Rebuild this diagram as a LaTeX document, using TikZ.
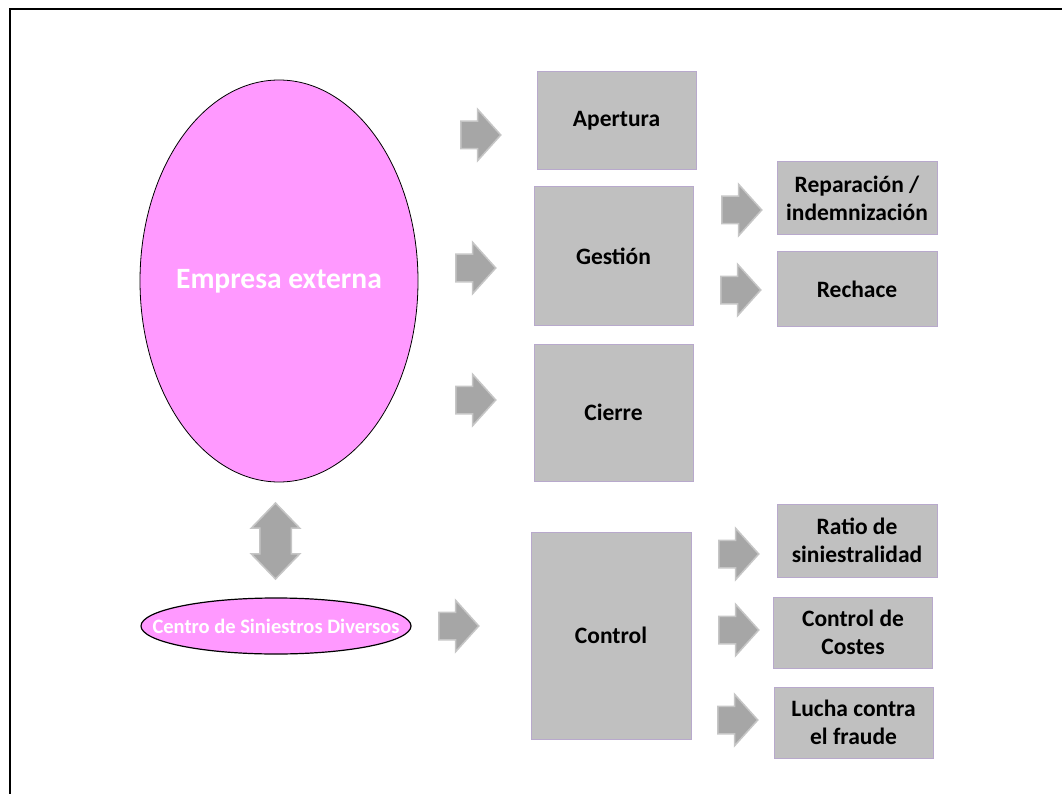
\documentclass[tikz,border=0pt]{standalone}
\usepackage{fontspec}
\setmainfont{Carlito}
\usetikzlibrary{shapes.geometric,shapes.arrows}

\definecolor{pinkfill}{HTML}{FF99FF}
\definecolor{boxgrey}{HTML}{C0C0C0}
\definecolor{boxedge}{HTML}{B8A9CC}
\definecolor{arrgrey}{HTML}{A6A6A6}
\definecolor{arredge}{HTML}{C6C6C6}

\begin{document}
\begin{tikzpicture}[
  x=1pt, y=-1pt,
  font=\fontsize{23.5}{28}\selectfont\bfseries,
  task/.style = {
    rectangle, draw=boxedge, line width=1pt, fill=boxgrey,
    inner sep=0pt, align=center, text=black,
  },
  entity/.style = {
    ellipse, draw=black, fill=pinkfill, inner sep=0pt,
  },
  blockarrow/.style = {
    single arrow, fill=arrgrey, draw=arredge, line width=1.5pt,
    inner xsep=0pt, inner ysep=13pt,
    minimum height=40, minimum width=50, single arrow head extend=12,
    single arrow tip angle=96, anchor=tail,
  },
]
  \useasboundingbox (0,0) rectangle (1062,794);
  \draw[line width=2pt] (10,794) -- (10,9) -- (1062,9);

  % entities
  \node[entity, line width=0.8pt, minimum width=278, minimum height=402,
        label={[text=white, font=\fontsize{29.5}{34}\selectfont\bfseries]center:Empresa externa}]
        (ext) at (279,281) {};
  \node[entity, line width=1.2pt, minimum width=270, minimum height=56,
        label={[text=white, font=\fontsize{20.5}{24}\selectfont\bfseries]center:Centro de Siniestros Diversos}]
        (csd) at (276,626) {};

  % process boxes
  \node[task, minimum width=159, minimum height=98]  (apertura) at (616.5,121) {Apertura};
  \node[task, minimum width=159, minimum height=138] (gestion)  at (613.5,256) {Gestión};
  \node[task, minimum width=159, minimum height=137] (cierre)   at (613.5,412.5) {Cierre};
  \node[task, minimum width=160, minimum height=207] (control)  at (611,635.5) {Control};

  % outcomes
  \node[task, minimum width=160, minimum height=73] (reparacion) at (857,198.5) {Reparación /\\indemnización};
  \node[task, minimum width=160, minimum height=74] (rechace)    at (857,289) {Rechace};
  \node[task, minimum width=160, minimum height=73] (ratio)      at (857,540.5) {Ratio de\\siniestralidad};
  \node[task, minimum width=159, minimum height=71] (costes)     at (853,632.5) {Control de\\Costes};
  \node[task, minimum width=159, minimum height=71] (fraude)     at (853.5,722.5) {Lucha contra\\el fraude};

  % block arrows
  \node[blockarrow] (toapertura)   at (460,135) {};
  \node[blockarrow] (togestion)    at (455,268) {};
  \node[blockarrow] (tocierre)     at (455,400) {};
  \node[blockarrow] (toreparacion) at (721,210) {};
  \node[blockarrow] (torechace)    at (720,290) {};
  \node[blockarrow] (tocontrol)    at (438,626) {};
  \node[blockarrow] (toratio)      at (718,554) {};
  \node[blockarrow] (tocostes)     at (718,630) {};
  \node[blockarrow] (tofraude)     at (717,720) {};

  \node[double arrow, fill=arrgrey, draw=arredge, line width=1.5pt,
        inner xsep=0pt, inner ysep=15pt,
        minimum height=76, minimum width=47, double arrow head extend=8.5,
        double arrow tip angle=88, rotate=90] (link) at (275.5,541) {};
\end{tikzpicture}
\end{document}
